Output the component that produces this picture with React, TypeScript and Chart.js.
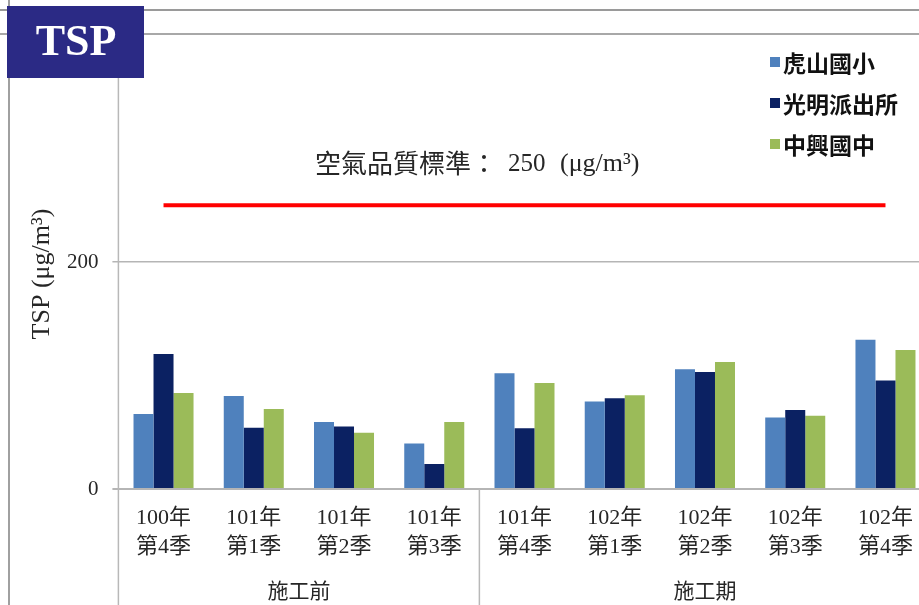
import React, { useEffect, useRef } from "react";
import { Chart, registerables } from "chart.js";

Chart.register(...registerables);

const yearLabels = ["100年", "101年", "101年", "101年", "101年", "102年", "102年", "102年", "102年"];
const quarterLabels = ["第4季", "第1季", "第2季", "第3季", "第4季", "第1季", "第2季", "第3季", "第4季"];
const seriesNames = ["虎山國小", "光明派出所", "中興國中"];
const hushan = [66, 82, 59, 40, 102, 77, 105.5, 63, 131.5];
const guangming = [119, 54, 55, 22, 53.5, 80, 103, 69.5, 95.5];
const zhongxing = [84.5, 70.5, 49.5, 59, 93.5, 82.5, 112, 64.5, 122.5];
const standardValues = [250, 250, 250, 250, 250, 250, 250, 250, 250];
const periodNames = ["施工前", "施工期"];
const periodSplit = 4; // first 4 categories are 施工前
const yTicks = [0, 200];
const yMax = 400;

const colors = ["#4F81BD", "#0B2162", "#9BBB59"];

const SERIF = '"Liberation Serif", "Noto Sans CJK TC"';
const CJK = '"Noto Sans CJK TC", "Noto Sans CJK SC"';

const decor = {
  id: "decor",
  afterDraw(chart: any) {
    const ctx = chart.ctx as CanvasRenderingContext2D;
    const xs = chart.scales.x;
    const ys = chart.scales.y;
    const area = chart.chartArea;
    const H = chart.height;
    const W = chart.width;
    ctx.save();

    const line = (x1: number, y1: number, x2: number, y2: number) => {
      ctx.beginPath();
      ctx.moveTo(x1, y1);
      ctx.lineTo(x2, y2);
      ctx.stroke();
    };

    // frame lines
    ctx.strokeStyle = "#9a9a9a";
    ctx.lineWidth = 2;
    line(0, 10, W, 10);
    ctx.strokeStyle = "#a8a8a8";
    line(0, 34, W, 34);
    ctx.strokeStyle = "#a0a0a0";
    line(9, 0, 9, H);

    // y axis line, extended down through category area
    ctx.strokeStyle = "#b8b8b8";
    ctx.lineWidth = 1.5;
    line(area.left, 34, area.left, H);
    // divider between periods
    const xd = (xs.getPixelForValue(periodSplit - 1) + xs.getPixelForValue(periodSplit)) / 2;
    line(xd, area.bottom, xd, H);

    // period labels
    ctx.fillStyle = "#262626";
    ctx.font = `21px ${CJK}`;
    ctx.textAlign = "center";
    ctx.textBaseline = "middle";
    const c1 = (area.left + xd) / 2;
    const c2 = (xd + area.right) / 2;
    ctx.fillText(periodNames[0], c1, 590);
    ctx.fillText(periodNames[1], c2, 590);

    // y title
    ctx.save();
    ctx.translate(42, 274);
    ctx.rotate(-Math.PI / 2);
    ctx.font = `26px ${SERIF}`;
    ctx.fillStyle = "#262626";
    ctx.textAlign = "center";
    ctx.textBaseline = "middle";
    ctx.fillText("TSP (μg/m³)", 0, 0);
    ctx.restore();

    // standard annotation
    const yStd = ys.getPixelForValue(standardValues[0]);
    const ty = yStd - 42;
    ctx.textAlign = "left";
    ctx.textBaseline = "middle";
    ctx.fillStyle = "#262626";
    ctx.font = `26px ${CJK}`;
    ctx.fillText("空氣品質標準：", 315, ty);
    ctx.font = `25px ${SERIF}`;
    ctx.fillText(String(standardValues[0]), 508, ty + 1);
    ctx.font = `26px ${SERIF}`;
    ctx.fillText("(μg/m³)", 560, ty + 1);

    // legend
    ctx.font = `bold 23px ${CJK}`;
    for (let i = 0; i < seriesNames.length; i++) {
      const cy = 62 + i * 41;
      ctx.fillStyle = colors[i];
      ctx.fillRect(770, cy - 5, 10, 10);
      ctx.fillStyle = "#111";
      ctx.fillText(seriesNames[i], 783, cy + 1);
    }

    // TSP box
    ctx.fillStyle = "#2B2A85";
    ctx.fillRect(7, 6, 137, 72);
    ctx.fillStyle = "#ffffff";
    ctx.font = `bold 44px ${SERIF}`;
    ctx.textAlign = "center";
    ctx.textBaseline = "middle";
    ctx.fillText("TSP", 76, 44);

    ctx.restore();
  },
};

export default function App() {
  const ref = useRef<HTMLCanvasElement>(null);

  useEffect(() => {
    if (!ref.current) return;
    const labels = yearLabels.map((y, i) => [y, quarterLabels[i]]);
    const chart = new Chart(ref.current, {
      type: "bar",
      data: {
        labels,
        datasets: [
          {
            type: "line" as any,
            label: "空氣品質標準",
            data: standardValues,
            borderColor: "#FF0000",
            borderWidth: 4,
            pointRadius: 0,
            fill: false,
            order: 0,
          } as any,
          { label: seriesNames[0], data: hushan, backgroundColor: colors[0], order: 1 },
          { label: seriesNames[1], data: guangming, backgroundColor: colors[1], order: 1 },
          { label: seriesNames[2], data: zhongxing, backgroundColor: colors[2], order: 1 },
        ],
      },
      options: {
        animation: false,
        responsive: false,
        maintainAspectRatio: false,
        layout: { padding: { top: 35, right: 9.4, left: 0, bottom: 0 } },
        datasets: {
          bar: { categoryPercentage: 0.665, barPercentage: 1 },
        },
        plugins: {
          legend: { display: false },
          tooltip: { enabled: false },
        },
        scales: {
          x: {
            grid: { display: false, drawTicks: false },
            border: { display: false },
            ticks: {
              color: "#262626",
              font: { family: SERIF, size: 22, lineHeight: 1.3 },
              padding: 15,
              maxRotation: 0,
              autoSkip: false,
            },
            afterFit: (s: any) => {
              s.height = 116;
            },
          },
          y: {
            min: 0,
            max: yMax,
            afterBuildTicks: (s: any) => {
              s.ticks = [...yTicks, yMax].map((v) => ({ value: v }));
            },
            ticks: {
              color: "#262626",
              font: { family: SERIF, size: 21 },
              padding: 14,
              callback: (v: any) => (yTicks.includes(Number(v)) ? String(v) : ""),
            },
            grid: {
              color: (c: any) => (c.tick && c.tick.value === yMax ? "rgba(0,0,0,0)" : "#b5b5b5"),
              lineWidth: (c: any) => (c.tick && c.tick.value === 0 ? 2 : 1.5),
              tickLength: 6,
            },
            border: { display: false },
            afterFit: (s: any) => {
              s.width = 118.4;
            },
          },
        },
      },
      plugins: [decor],
    });
    return () => chart.destroy();
  }, []);

  return (
    <div
      style={{
        position: "fixed",
        left: 0,
        top: 0,
        width: 919,
        height: 605,
        overflow: "hidden",
        background: "#fff",
      }}
    >
      <canvas ref={ref} width={940} height={605} style={{ width: 940, height: 605, display: "block" }} />
    </div>
  );
}
